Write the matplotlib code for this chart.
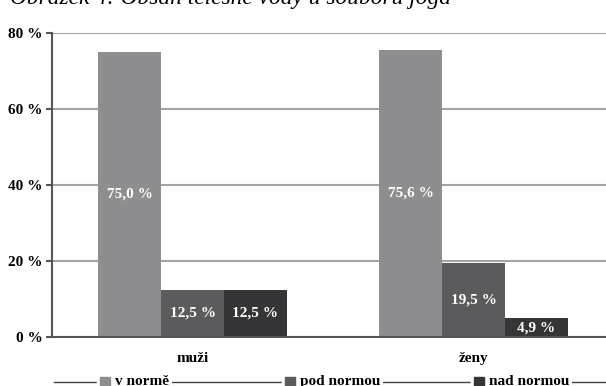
import matplotlib
matplotlib.use("Agg")
import numpy as np
from matplotlib import pyplot as plt
from matplotlib.lines import Line2D
from matplotlib.patches import Rectangle

# data
groups = ["muži", "ženy"]
series = ["v normě", "pod normou", "nad normou"]
v_norme = [75.0, 75.6]
pod_normou = [12.5, 19.5]
nad_normou = [12.5, 4.9]
colors = ["#8e8e90", "#5b5b5d", "#353537"]
y_ticks = [0, 20, 40, 60, 80]

plt.rcParams["font.family"] = ["Liberation Serif", "DejaVu Serif"]

W, H = 606, 386
fig = plt.figure(figsize=(W / 100, H / 100), dpi=100)
# axes runs a little past the right border of the figure
ax = fig.add_axes([52 / W, (H - 337) / H, 562 / W, 304 / H])

x = np.arange(len(groups))
bw = 0.224
for i, (vals, col) in enumerate(zip([v_norme, pod_normou, nad_normou], colors)):
    pos = x + (i - 1) * bw
    bars = ax.bar(pos, vals, bw, color=col, edgecolor="none", zorder=3)
    for b, v in zip(bars, vals):
        ax.text(b.get_x() + b.get_width() / 2, v / 2,
                f"{v:.1f} %".replace(".", ","), ha="center", va="center",
                color="white", fontsize=11, fontweight="bold", zorder=4)

ax.set_xlim(-0.5, 1.5)
ax.set_ylim(0, 80)
ax.set_yticks(y_ticks)
ax.set_yticklabels([f"{t} %" for t in y_ticks], fontsize=11, fontweight="bold")
ax.set_xticks(x)
ax.set_xticklabels(groups, fontsize=11, fontweight="bold")
ax.tick_params(axis="x", length=0, pad=11)
ax.tick_params(axis="y", length=4, width=1.5, color="#555555", pad=3)
ax.yaxis.grid(True, color="#a4a4a4", linewidth=1.5, zorder=0)
ax.set_axisbelow(True)
for s in ["top", "right"]:
    ax.spines[s].set_visible(False)
for s in ["left", "bottom"]:
    ax.spines[s].set_color("#555555")
    ax.spines[s].set_linewidth(1.5)
ax.spines["bottom"].set_zorder(5)

# legend strip along the bottom edge
ly = (H - 382) / H
fig.add_artist(Line2D([54 / W, 1.0], [ly, ly], color="#444444", lw=1.0))
sq_x = [100, 285, 474]
for sx, name, col in zip(sq_x, series, colors):
    fig.add_artist(Rectangle(((sx - 3) / W, ly - 8 / H), 20 / W, 16 / H,
                             transform=fig.transFigure, color="white", zorder=5))
    fig.add_artist(Rectangle((sx / W, (H - 388) / H), 10 / W, 11 / H,
                             transform=fig.transFigure, color=col, zorder=6))
    fig.text((sx + 15) / W, (H - 385) / H, name, fontsize=11, fontweight="bold",
             ha="left", va="baseline", zorder=6,
             bbox=dict(facecolor="white", edgecolor="none", pad=2))

# caption, mostly cut off at the top edge
fig.text(10 / W, (H - 4) / H, "Obrázek 4: Obsah tělesné vody u souboru jóga",
         fontsize=16.8, fontstyle="italic", ha="left", va="baseline")

fig.savefig("out.png", dpi=100)
